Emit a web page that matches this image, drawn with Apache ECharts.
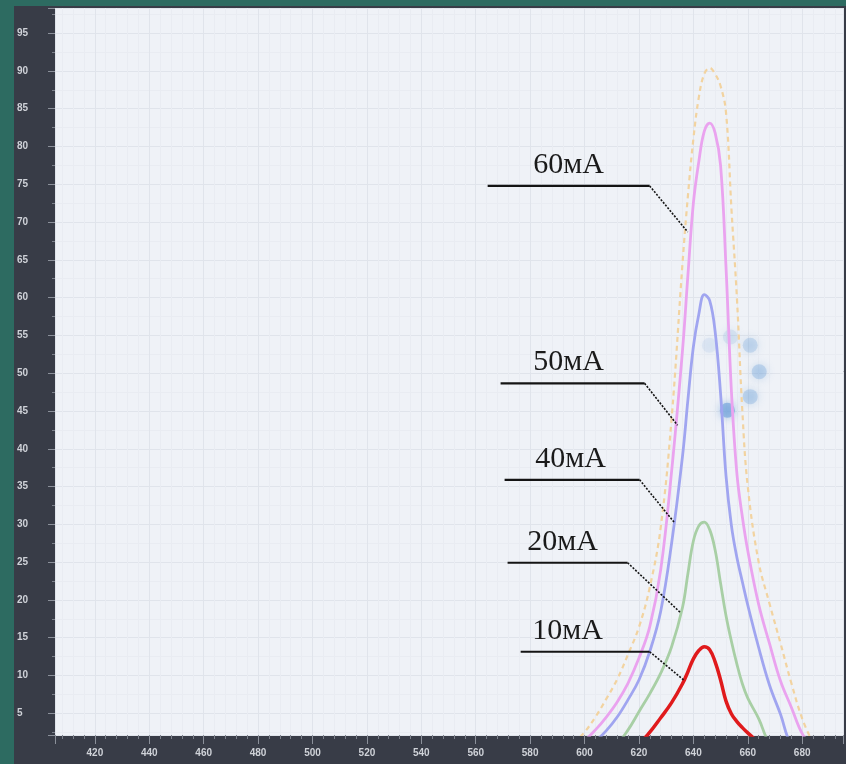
<!DOCTYPE html>
<html><head><meta charset="utf-8">
<script src="https://cdn.jsdelivr.net/npm/echarts@6/dist/echarts.min.js"></script>
<style>html,body{margin:0;padding:0;background:#2d6b61;}#c{width:846px;height:764px;}</style>
</head><body><div id="c"></div>
<script>
// ---- data ----
const wavelengths = [596,600,604,608,612,616,620,624,628,632,636,638,640,642,644,646,648,650,652,654,656,658,660,664,668,672,676,680,684];
const ma60 = [1.0,2.5,4.5,6.9,9.5,12.8,16.4,21.7,29.6,44,64.5,73.5,81,86.5,89.6,90.4,89.6,88.0,84.5,71.7,60,45,35,25,19.5,14.3,9,4.3,1.0];
const ma50 = [0.5,1.4,2.8,4.5,6.5,9.0,12.3,16.5,24,37,53,63,72.5,78,82,83.1,81.8,77.5,64,47.5,36.7,31,26.5,19.4,14.2,9.3,5.8,2.3,0.5];
const ma40 = [0,0.3,1.3,2.7,4.5,6.8,9.4,13.2,18.5,27.5,39,46.5,53.5,57.8,60.4,59.6,55.5,47.3,36.4,29.8,25.6,22.4,19.3,13.7,8.7,4.9,0.8,0,0];
const ma20 = [0,0,0,0.3,1.0,2.8,5.2,7.6,10.3,13.8,19,23.5,27.8,29.8,30.3,29.3,26.6,22.2,17.9,14.5,11.5,8.9,7,4.3,1.0,0,0,0,0];
const ma10 = [0,0,0,0,0,0.3,1.0,2.5,4.4,6.4,8.9,10.5,12.2,13.3,13.8,13.4,11.8,9.4,6.6,4.9,3.9,3.1,2.4,1.2,0.5,0,0,0,0];
const seriesNames = ['60мА','50мА','40мА','20мА','10мА'];
const xTickLabels = [420,440,460,480,500,520,540,560,580,600,620,640,660,680];
const yTickLabels = [5,10,15,20,25,30,35,40,45,50,55,60,65,70,75,80,85,90,95];
// annotation anchor points on the curves (wavelength, value)
const annoWavelength = [637.9,634.2,633.1,635.3,636.8];
const annoValue = [68.7,43.1,30.2,18.3,9.3];
// faint spinner dots seen on the picture
const spinnerX = [645.9,653.6,660.9,664.2,660.9,652.5];
const spinnerY = [53.7,54.8,53.7,50.2,46.9,45.1];
const spinnerAlpha = [0.1,0.15,0.25,0.3,0.3,0.6];

// ---- styles ----
const annoElbowDx = [-38,-33,-35,-53,-35];
const annoElbowDy = [-46,-42,-43,-50,-29];
const annoLineLen = [162,144,135,120,129];
const annoTextDx = [-81,-76,-69,-65,-82];
const colors = ['#f2d3a0','#eaa3ef','#a0a5f0','#a8cfa5','#e01a1c'];

const chart = echarts.init(document.getElementById('c'), null, {renderer:'canvas'});
const pairs = arr => wavelengths.map((w,i)=>[w, arr[i]]);
const values = [ma60, ma50, ma40, ma20, ma10];

const series = values.map((arr,i)=>({
  name: seriesNames[i], type:'line', data: pairs(arr), smooth:0.4, symbol:'none',
  z: 2+i,
  lineStyle:{color:colors[i], width: i===4 ? 3.5 : (i===0 ? 2.2 : 2.8), type: i===0 ? [5,4] : 'solid'}
}));
series.push({
  name:'spinner', type:'scatter', silent:true, z:1,
  data: spinnerX.map((x,i)=>({value:[x, spinnerY[i]], itemStyle:{opacity:spinnerAlpha[i]}})),
  symbolSize:15, itemStyle:{color:'#6a9fd8', shadowBlur:8, shadowColor:'#6a9fd8'}
});

chart.setOption({
  animation:false,
  backgroundColor:'#383c47',
  grid:{left:55,right:0,top:8,bottom:29,show:true,backgroundColor:'#eff2f7',borderWidth:0},
  xAxis:{type:'value',min:405.35,max:695,minInterval:20,maxInterval:20,
    axisLine:{show:false},
    axisTick:{show:true,length:9,lineStyle:{color:'#8b909a',width:1}},
    minorTick:{show:true,splitNumber:5,length:4,lineStyle:{color:'#7b808a'}},
    axisLabel:{color:'#cfd2d8',fontSize:10,fontWeight:'bold',margin:13,fontFamily:'Liberation Sans',
      formatter:v=> xTickLabels.includes(Math.round(v*100)/100) ? String(v) : ''},
    splitLine:{show:true,lineStyle:{color:'#e0e4eb',width:1}},
    minorSplitLine:{show:true,lineStyle:{color:'#e9ecf2',width:1}}
  },
  yAxis:{type:'value',min:2.12,max:98.33,minInterval:5,maxInterval:5,
    axisLine:{show:false},
    axisTick:{show:true,length:7,lineStyle:{color:'#8b909a'}},
    minorTick:{show:true,splitNumber:2,length:3,lineStyle:{color:'#7b808a'}},
    axisLabel:{color:'#cfd2d8',fontSize:10,fontWeight:'bold',margin:38,align:'left',fontFamily:'Liberation Sans',
      formatter:v=> yTickLabels.includes(Math.round(v*100)/100) ? String(v) : ''},
    splitLine:{show:true,lineStyle:{color:'#e0e4eb',width:1}},
    minorSplitLine:{show:true,lineStyle:{color:'#e9ecf2',width:1}}
  },
  series: series
});

const graphics = [
  {type:'rect',shape:{x:0,y:0,width:14,height:764},style:{fill:'#2d6b61'},z:0},
  {type:'rect',shape:{x:0,y:0,width:846,height:6},style:{fill:'#2d6b61'},z:0}
];
seriesNames.forEach((name,i)=>{
  const p = chart.convertToPixel({gridIndex:0},[annoWavelength[i], annoValue[i]]);
  const ex = p[0]+annoElbowDx[i], ey = p[1]+annoElbowDy[i];
  graphics.push({type:'polyline',z:20,shape:{points:[[ex-annoLineLen[i],ey],[ex,ey]]},style:{stroke:'#141414',lineWidth:2.2,fill:null}});
  graphics.push({type:'polyline',z:20,shape:{points:[[ex,ey],[p[0],p[1]]]},style:{stroke:'#141414',lineWidth:1.6,lineDash:[2,1.5],fill:null}});
  graphics.push({type:'text',z:20,style:{text:name,x:ex+annoTextDx[i],y:ey-6,textAlign:'center',textVerticalAlign:'bottom',
    font:"30px 'Liberation Serif'",fill:'#1a1a1a'}});
});
chart.setOption({graphic:{elements:graphics}});
</script></body></html>
